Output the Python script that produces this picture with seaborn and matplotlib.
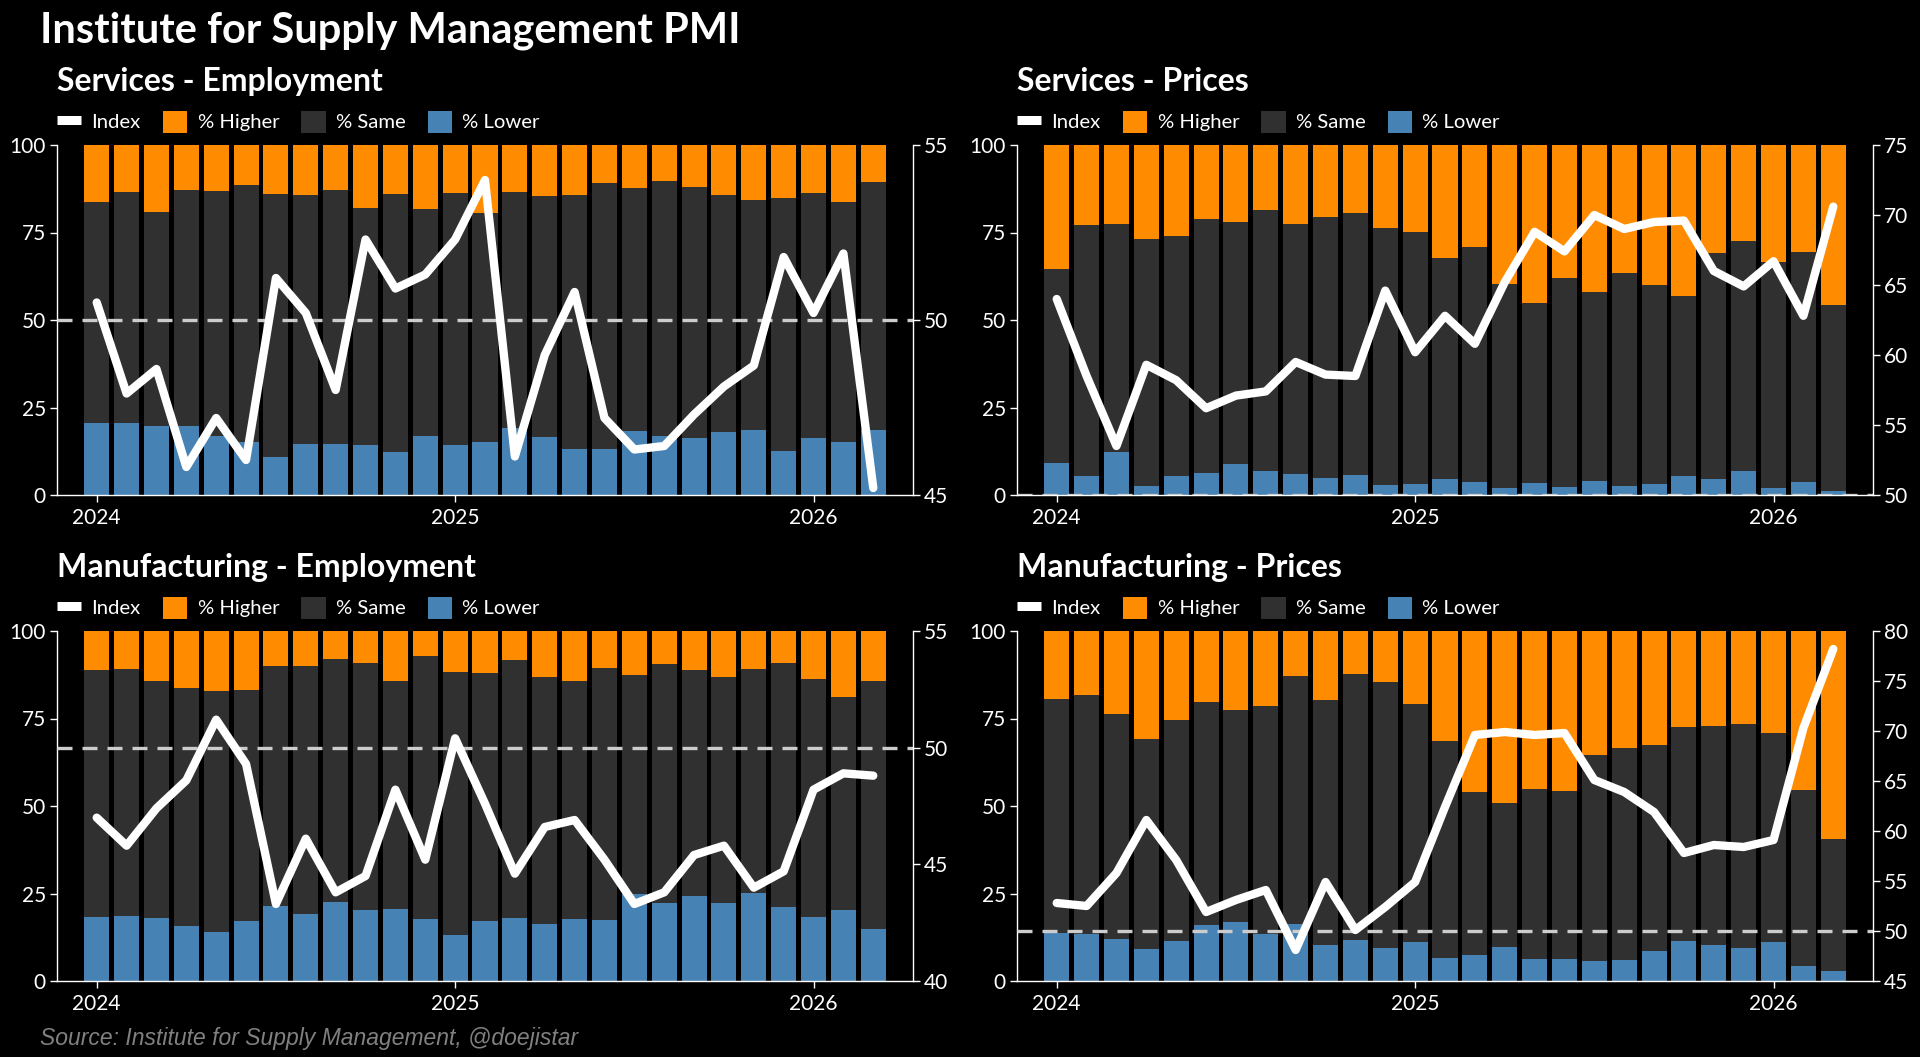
# ISM PMI panels: stacked survey shares with the diffusion index on a twin axis

import numpy as np
import pandas as pd
import seaborn as sns
import matplotlib.pyplot as plt
from matplotlib.lines import Line2D
from matplotlib.patches import Patch

# months Jan 2024 .. Mar 2026
months = pd.date_range('2024-01-01', '2026-03-01', freq='MS')
year_labels = ['2024', '2025', '2026']

# services - employment
se_higher = [16.3, 13.4, 19.1, 12.9, 13.1, 11.4, 14.0, 14.3, 12.9, 18.0, 14.0, 18.3, 13.7, 19.4,
             13.4, 14.6, 14.3, 10.9, 12.3, 10.3, 12.0, 14.3, 15.7, 15.1, 13.7, 16.3, 10.6]
se_same = [63.1, 66.0, 61.2, 67.4, 69.9, 73.5, 75.1, 71.1, 72.5, 67.7, 73.7, 64.8, 72.0, 65.5,
           67.5, 68.8, 72.6, 76.0, 69.4, 72.8, 71.7, 67.7, 65.7, 72.3, 70.0, 68.6, 70.8]
se_lower = [20.6, 20.6, 19.7, 19.7, 17.0, 15.1, 10.9, 14.6, 14.6, 14.3, 12.3, 16.9, 14.3, 15.1,
            19.1, 16.6, 13.1, 13.1, 18.3, 16.9, 16.3, 18.0, 18.6, 12.6, 16.3, 15.1, 18.6]
se_index = [50.5, 47.9, 48.6, 45.8, 47.2, 46.0, 51.2, 50.2, 48.0, 52.3, 50.9, 51.3, 52.3, 54.0,
            46.1, 49.0, 50.8, 47.2, 46.3, 46.4, 47.3, 48.1, 48.7, 51.8, 50.2, 51.9, 45.2]

# services - prices
sp_higher = [35.4, 22.9, 22.6, 26.9, 26.0, 21.1, 22.0, 18.6, 22.6, 20.6, 19.4, 23.7, 24.9, 32.3,
             29.1, 39.7, 45.1, 38.0, 42.0, 36.6, 40.0, 43.1, 30.9, 27.4, 33.4, 30.6, 45.7]
sp_same = [55.5, 71.7, 65.1, 70.5, 68.6, 72.6, 69.1, 74.5, 71.4, 74.5, 74.9, 73.4, 72.0, 63.1,
           67.2, 58.3, 51.5, 59.7, 54.0, 60.8, 56.9, 51.5, 64.5, 65.7, 64.6, 65.7, 53.2]
sp_lower = [9.1, 5.4, 12.3, 2.6, 5.4, 6.3, 8.9, 6.9, 6.0, 4.9, 5.7, 2.9, 3.1, 4.6,
            3.7, 2.0, 3.4, 2.3, 4.0, 2.6, 3.1, 5.4, 4.6, 6.9, 2.0, 3.7, 1.1]
sp_index = [64.0, 58.5, 53.5, 59.3, 58.2, 56.2, 57.1, 57.4, 59.5, 58.6, 58.5, 64.6, 60.2, 62.8,
            60.8, 65.2, 68.8, 67.4, 70.0, 69.0, 69.5, 69.6, 66.0, 64.9, 66.7, 62.8, 70.6]

# manufacturing - employment
me_higher = [11.1, 10.9, 14.3, 16.3, 17.1, 16.9, 10.0, 10.0, 8.0, 9.1, 14.3, 7.1, 11.7, 12.0,
             8.3, 13.1, 14.3, 10.6, 12.6, 9.4, 11.1, 13.1, 10.9, 9.1, 13.7, 18.9, 14.3]
me_same = [70.6, 70.5, 67.7, 68.0, 68.9, 66.0, 68.6, 70.9, 69.4, 70.6, 65.1, 75.2, 75.2, 70.9,
           73.7, 70.6, 68.0, 72.0, 62.5, 68.3, 64.6, 64.6, 64.0, 69.8, 68.0, 60.8, 70.8]
me_lower = [18.3, 18.6, 18.0, 15.7, 14.0, 17.1, 21.4, 19.1, 22.6, 20.3, 20.6, 17.7, 13.1, 17.1,
            18.0, 16.3, 17.7, 17.4, 24.9, 22.3, 24.3, 22.3, 25.1, 21.1, 18.3, 20.3, 14.9]
me_index = [47.0, 45.8, 47.4, 48.6, 51.2, 49.3, 43.3, 46.1, 43.8, 44.5, 48.2, 45.2, 50.4, 47.6,
            44.6, 46.6, 46.9, 45.2, 43.3, 43.8, 45.4, 45.8, 44.0, 44.7, 48.2, 48.9, 48.8]

# manufacturing - prices
mp_higher = [19.4, 18.3, 23.7, 30.9, 25.4, 20.3, 22.6, 21.4, 12.9, 19.7, 12.3, 14.6, 20.9, 31.4,
             46.0, 49.1, 45.1, 45.7, 35.4, 33.4, 32.6, 27.4, 27.1, 26.6, 29.1, 45.4, 59.4]
mp_same = [66.9, 68.3, 64.3, 60.0, 63.2, 63.7, 60.5, 65.2, 70.8, 70.0, 76.0, 76.0, 68.0, 62.0,
           46.6, 41.2, 48.6, 48.0, 58.9, 60.6, 58.8, 61.2, 62.6, 64.0, 59.8, 50.3, 37.7]
mp_lower = [13.7, 13.4, 12.0, 9.1, 11.4, 16.0, 16.9, 13.4, 16.3, 10.3, 11.7, 9.4, 11.1, 6.6,
            7.4, 9.7, 6.3, 6.3, 5.7, 6.0, 8.6, 11.4, 10.3, 9.4, 11.1, 4.3, 2.9]
mp_index = [52.8, 52.5, 55.8, 61.1, 57.1, 51.9, 53.1, 54.1, 48.1, 54.9, 50.1, 52.4, 54.9, 62.4,
            69.6, 69.9, 69.6, 69.8, 65.1, 63.9, 61.9, 57.8, 58.6, 58.4, 59.1, 70.3, 78.2]

# colours
ORANGE = '#ff8c00'
DARK = '#303030'
BLUE = '#4682b4'
WHITE = '#ffffff'

sns.set_theme(style='ticks')
plt.rcParams['font.family'] = ['Lato', 'DejaVu Sans']
plt.rcParams['axes.facecolor'] = 'black'
plt.rcParams['figure.facecolor'] = 'black'

fig = plt.figure(figsize=(19.2, 10.57), dpi=100)
W, H = 1920, 1057

panels = [
    ('Services - Employment', se_higher, se_same, se_lower, se_index, (45, 55), [45, 50, 55], 57, 145),
    ('Services - Prices', sp_higher, sp_same, sp_lower, sp_index, (50, 75), [50, 55, 60, 65, 70, 75], 1017, 145),
    ('Manufacturing - Employment', me_higher, me_same, me_lower, me_index, (40, 55), [40, 45, 50, 55], 57, 631),
    ('Manufacturing - Prices', mp_higher, mp_same, mp_lower, mp_index, (45, 80), [45, 50, 55, 60, 65, 70, 75, 80], 1017, 631),
]

for title, higher, same, lower, index, rlim, rticks, left, top in panels:
    df = pd.DataFrame({'month': months, 'higher': higher, 'same': same, 'lower': lower, 'index': index})
    df['pos'] = np.arange(len(df))
    # stacked bars drawn from the top segment down
    df['top_higher'] = df['lower'] + df['same'] + df['higher']
    df['top_same'] = df['lower'] + df['same']

    ax = fig.add_axes([left / W, 1 - (top + 350) / H, 856 / W, 350 / H])
    for col, c in [('top_higher', ORANGE), ('top_same', DARK), ('lower', BLUE)]:
        sns.barplot(data=df, x='pos', y=col, color=c, saturation=1, width=0.84,
                    linewidth=0, errorbar=None, ax=ax, zorder=1)
    ax.set_ylim(0, 100)
    ax.set_yticks([0, 25, 50, 75, 100])
    ax.set_xlim(-1.33, len(df) - 1 + 1.33)
    ax.set_xticks([0, 12, 24])
    ax.set_xticklabels(year_labels)
    ax.set_xlabel('')
    ax.set_ylabel('')

    ax2 = ax.twinx()
    ax2.axhline(50, color='#cccccc', lw=2.4, ls=(0, (4.5, 3)), zorder=2)
    sns.lineplot(data=df, x='pos', y='index', color=WHITE, lw=6, ax=ax2, zorder=3)
    ax2.set_ylim(*rlim)
    ax2.set_yticks(rticks)
    ax2.set_ylabel('')
    ax2.set_xlabel('')

    for a in (ax, ax2):
        for s in a.spines.values():
            s.set_color(WHITE)
            s.set_linewidth(1)
        a.spines['top'].set_visible(False)
        a.tick_params(colors=WHITE, labelcolor=WHITE, labelsize=15, length=5, width=1)
    ax.spines['right'].set_visible(False)
    ax2.spines['left'].set_visible(False)
    ax2.spines['bottom'].set_visible(False)
    ax.tick_params(axis='y', pad=3)
    ax.tick_params(axis='x', pad=4)
    ax2.tick_params(axis='y', pad=3)

    # subtitle and legend above each panel
    fig.text(left / W, 1 - (top - 54) / H, title, fontsize=23, fontweight='bold',
             color=WHITE, va='baseline', ha='left')
    handles = [Line2D([0], [0], color=WHITE, lw=6.5, solid_capstyle='butt'),
               Patch(facecolor=ORANGE, edgecolor='none'), Patch(facecolor=DARK, edgecolor='none'),
               Patch(facecolor=BLUE, edgecolor='none')]
    leg = ax.legend(handles, ['Index', '% Higher', '% Same', '% Lower'], loc='lower left',
                    bbox_to_anchor=(0.0, 1.035), ncol=4, frameon=False, fontsize=14.6,
                    handlelength=1.2, handleheight=1.3, handletextpad=0.5,
                    columnspacing=1.1, borderpad=0, borderaxespad=0)
    for t in leg.get_texts():
        t.set_color(WHITE)

fig.text(40 / W, 1 - 42 / H, 'Institute for Supply Management PMI', fontsize=30,
         fontweight='bold', color=WHITE, va='baseline', ha='left')
fig.text(40 / W, 1 - 1045 / H, 'Source: Institute for Supply Management, @doejistar',
         fontsize=16.5, style='italic', color='#808080', family='Liberation Sans',
         va='baseline', ha='left')

fig.savefig('out.png', dpi=100, facecolor='black')
